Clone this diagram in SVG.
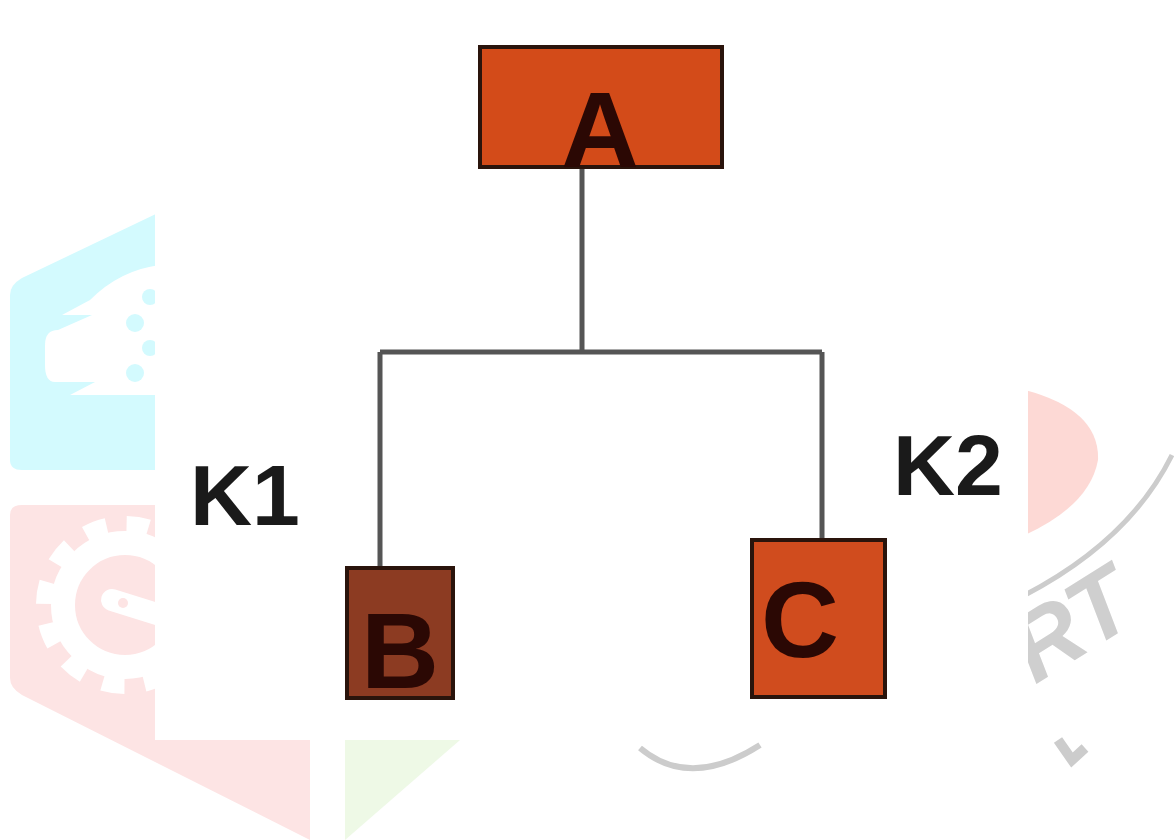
<svg xmlns="http://www.w3.org/2000/svg" width="1174" height="840" viewBox="0 0 1174 840">
<style>
.node{stroke:#2a140c;stroke-width:4}
.lbl{font-family:"Liberation Sans",Arial,sans-serif;font-weight:bold;fill:#2b0804;text-anchor:middle}
.k{font-family:"Liberation Sans",Arial,sans-serif;font-weight:bold;fill:#1a1a1a;font-size:86px}
.wm{font-family:"Liberation Sans",Arial,sans-serif;font-weight:bold;fill:#cfcfcf;font-style:italic}
.conn{stroke:#555;stroke-width:5;fill:none}
</style>
<rect width="1174" height="840" fill="#ffffff"/>
<g id="watermark">
<path d="M10,295 Q10,285 22,278 L160,212 L160,470 L22,470 Q10,470 10,460 Z" fill="#d3fafe"/>
<path d="M90,300 Q120,270 160,265 L160,395 L70,395 L95,382 L55,382 Q45,382 45,365 L45,345 Q45,330 58,330 L92,315 L62,315 Z" fill="#ffffff"/>
<g fill="#d3fafe">
<circle cx="150" cy="297" r="8"/><circle cx="135" cy="323" r="9"/><circle cx="150" cy="348" r="8"/><circle cx="135" cy="373" r="9"/>
</g>
<path d="M10,515 Q10,505 22,505 L160,505 L160,740 L310,740 L310,840 L22,695 Q10,688 10,678 Z" fill="#fde4e4"/>
<circle cx="125" cy="605" r="80" fill="none" stroke="#ffffff" stroke-width="18" stroke-dasharray="22 20"/>
<circle cx="125" cy="605" r="62" fill="none" stroke="#ffffff" stroke-width="24"/>
<path d="M112,600 L160,615" stroke="#ffffff" stroke-width="22" stroke-linecap="round"/>
<circle cx="123" cy="603" r="5" fill="#fde4e4"/>
<path d="M345,740 L460,740 L345,840 Z" fill="#eef9e6"/>
<path d="M1025,390 Q1100,410 1098,460 Q1090,505 1025,535 Z" fill="#fdd9d5"/>
<path d="M1025,595 Q1130,540 1172,455" fill="none" stroke="#cccccc" stroke-width="5"/>
<path d="M640,748 Q690,790 760,745" fill="none" stroke="#cccccc" stroke-width="6"/>
<text class="wm" font-size="95" transform="translate(1035,685) rotate(-32)">RT</text>
<path d="M1058,740 L1072,760 L1085,748" fill="none" stroke="#cccccc" stroke-width="10"/>
</g>
<rect x="155" y="0" width="873" height="740" fill="#ffffff"/>
<g id="connectors">
<path class="conn" d="M582,168 L582,352"/>
<path class="conn" d="M380,352 L822,352"/>
<path class="conn" d="M380,352 L380,569"/>
<path class="conn" d="M822,352 L822,545"/>
</g>
<g id="node-A">
<rect class="node" x="480" y="47" width="242" height="120" fill="#d34b19"/>
<text class="lbl" x="600" y="167" font-size="108">A</text>
</g>
<g id="node-B">
<rect class="node" x="347" y="568" width="106" height="130" fill="#8c3b22"/>
<text class="lbl" x="400" y="688" font-size="108">B</text>
</g>
<g id="node-C">
<rect class="node" x="752" y="540" width="133" height="157" fill="#d04c1e"/>
<text class="lbl" x="800" y="657" font-size="108">C</text>
</g>
<text class="k" x="190" y="525">K1</text>
<text class="k" x="893" y="495">K2</text>
</svg>
